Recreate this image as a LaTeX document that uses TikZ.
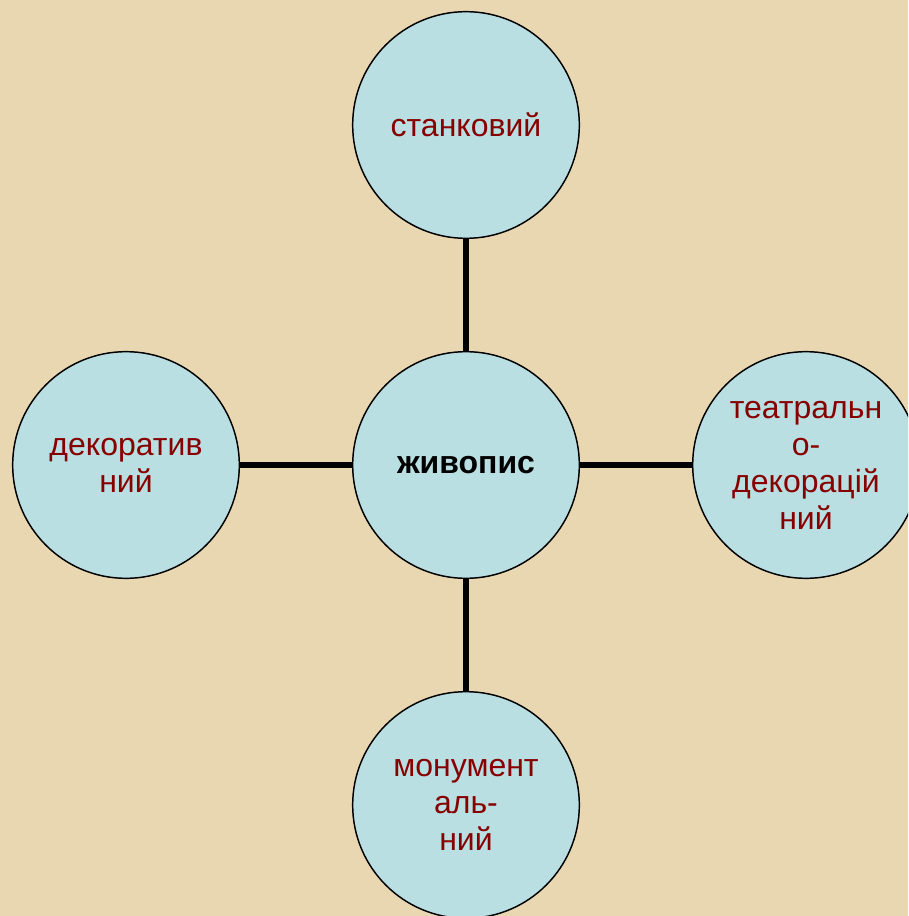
\documentclass[tikz,border=0pt]{standalone}
\usepackage{fontspec}
\setmainfont{Liberation Sans}
\definecolor{tlo}{RGB}{233,215,178}
\definecolor{kolo}{RGB}{186,223,227}
\definecolor{napys}{RGB}{135,0,0}
\begin{document}
\begin{tikzpicture}[x=0.75pt,y=-0.75pt,
    kolo/.style={draw,shape=circle,fill=kolo,line width=1.1pt,inner sep=0pt,
      minimum size=170pt,align=center,text=napys,
      font=\fontsize{24}{27.8}\selectfont},
    zv/.style={line width=3.8pt}]
  \useasboundingbox (0,0) rectangle (908,916);
  \clip (0,0) rectangle (908,916);
  \fill[tlo] (0,0) rectangle (908,916);
  \node[kolo,text=black,font=\fontsize{24}{27.8}\selectfont\bfseries] (zhyv) at (466,465) {живопис};
  \node[kolo] (stan) at (466,125) {станковий};
  \node[kolo] (dekor) at (126,465) {декоратив\\ний};
  \node[kolo] (teatr) at (806,465) {театральн\\о-\\декорацій\\ний};
  \node[kolo] (monum) at (466,805) {монумент\\аль-\\ний};
  \draw[zv] (zhyv) -- (stan) (zhyv) -- (dekor) (zhyv) -- (teatr) (zhyv) -- (monum);
\end{tikzpicture}
\end{document}
